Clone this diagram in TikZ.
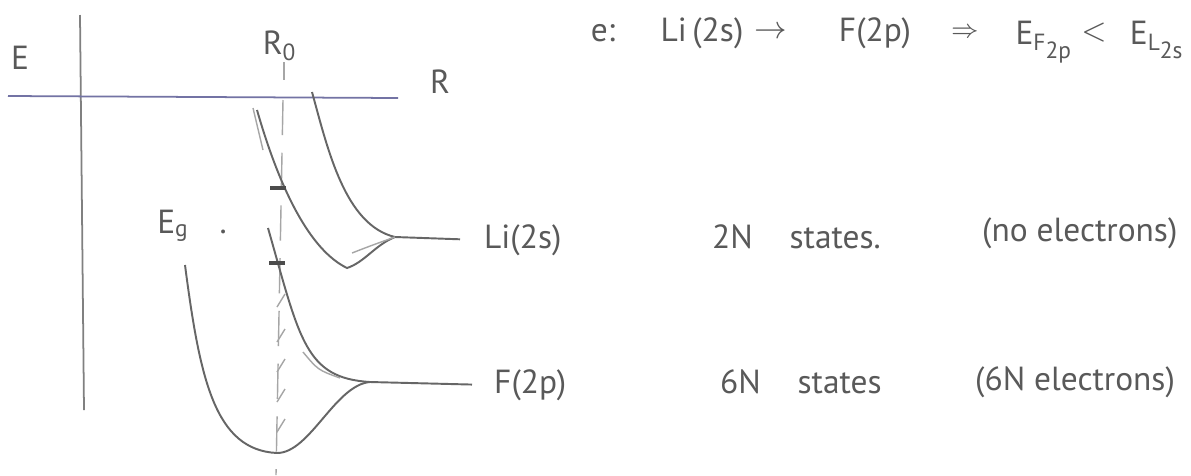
\documentclass[tikz,border=0pt]{standalone}
\usepackage{amsmath}
\usepackage{fontspec}
\setmainfont{PT Sans}
\usepackage{tikz}

\begin{document}
\begin{tikzpicture}[
    x=0.01cm, y=-0.01cm,
    pencil/.style={draw=black!60, line width=0.55pt},
    faint/.style={draw=black!35, line width=0.4pt},
    axisline/.style={draw=black!50, line width=0.5pt},
    ticker/.style={draw=black!70, line width=0.9pt},
    hand/.style={text=black!65, font=\fontsize{9.5}{11}\selectfont, inner sep=1pt}
]
    \fill[white] (0,0) rectangle (1191,475);
    \useasboundingbox (0,0) rectangle (1191,475);

    % Achsen
    \draw[axisline] (80,15) -- (84,410);
    \draw[axisline, draw=blue!35!black!55] (8,96) -- (398,98);
    \node[hand] (E) at (20,58) {E};
    \node[hand] (R) at (440,82) {R};
    \node[hand] (R0) at (280,46) {$\text{R}_\text{0}$};
    \draw[faint] (284,62) -- (284,80);
    \draw[faint, dash pattern=on 10pt off 5pt] (283,100) -- (276,475);

    % Li(2s) Band
    \coordinate (liend) at (395,237);
    \draw[pencil] (312,92) .. controls (328,150) and (345,225) .. (liend);
    \draw[pencil] (257,110) .. controls (280,190) and (310,250) .. (347,268)
        .. controls (365,262) and (375,245) .. (liend);
    \draw[faint] (352,253) .. controls (370,246) .. (liend);
    \draw[faint] (253,108) -- (263,150);

    % F(2p) Band
    \coordinate (fend) at (370,382);
    \draw[pencil] (268,228) .. controls (300,340) and (305,378) .. (fend);
    \draw[pencil] (185,265) .. controls (200,380) and (215,450) .. (277,453)
        .. controls (310,453) and (335,385) .. (fend);
    \draw[faint] (303,352) .. controls (318,370) .. (340,378);
    \foreach \y in {300,335,365,395,425}
        \draw[faint] (277,\y+7) -- (285,\y-6);

    % Marken bei R0
    \draw[ticker] (270,188) -- (286,188);
    \draw[ticker] (269,263) -- (285,263);
    \node[hand] (Eg) at (192,226) {$\text{E}_\text{g}$\hspace{0.9em}.};

    % Niveaus
    \node[hand, anchor=west] (li) at (480,240) {Li(2s)};
    \node[hand, anchor=west] (f) at (490,385) {F(2p)};
    \draw[pencil, shorten >=0.2cm] (liend) -- (li.west);
    \draw[pencil, shorten >=0.18cm] (fend) -- (f.west);

    \node[hand, anchor=west] (li2n) at (708,237) {2N\hspace{1.1em}states.};
    \node[hand, anchor=west] (linone) at (978,233) {(no electrons)};
    \node[hand, anchor=west] (f6n) at (716,382) {6N\hspace{1.1em}states};
    \node[hand, anchor=west] (fsix) at (971,382) {(6N electrons)};

    % Gleichung oben
    \node[hand] (eq0) at (603,33) {e:};
    \node[hand] (eq1) at (702,33) {Li\,(2s)};
    \node[hand] (eq2) at (771,33) {$\rightarrow$};
    \node[hand] (eq3) at (875,33) {F(2p)};
    \node[hand] (eq4) at (965,33) {\scriptsize$\Rightarrow$};
    \node[hand] (eq5) at (1045,42) {$\text{E}_{\text{F}_{\scriptstyle\text{2p}}}$};
    \node[hand] (eq6) at (1094,33) {$<$};
    \node[hand] (eq7) at (1158,40) {$\text{E}_{\text{L}_{\scriptstyle\text{2s}}}$};

\end{tikzpicture}
\end{document}
